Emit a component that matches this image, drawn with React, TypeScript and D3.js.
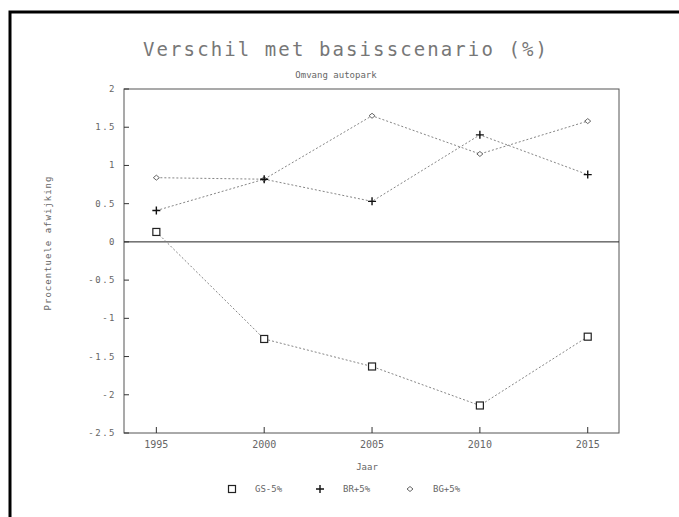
import React from "react";
import * as d3 from "d3";

const years = [1995, 2000, 2005, 2010, 2015];
const gsValues = [0.13, -1.27, -1.63, -2.14, -1.24];
const brValues = [0.41, 0.82, 0.53, 1.4, 0.88];
const bgValues = [0.84, 0.82, 1.65, 1.15, 1.58];
const yTicks = [2, 1.5, 1, 0.5, 0, -0.5, -1, -1.5, -2, -2.5];
const yTickLabels = ["2", "1.5", "1", "0.5", "0", "-0.5", "-1", "-1.5", "-2", "-2.5"];
const legendLabels = ["GS-5%", "BR+5%", "BG+5%"];

const W = 679;
const H = 517;
const font = "'DejaVu Sans Mono', monospace";
const ink = "#666";

function Marker({ kind, x, y }: { kind: string; x: number; y: number }) {
  if (kind === "square") {
    return <rect x={x - 3.5} y={y - 3.5} width={7} height={7} fill="white" stroke="#222" strokeWidth={1.2} />;
  }
  if (kind === "plus") {
    return (
      <path d={`M${x - 4},${y}H${x + 4}M${x},${y - 4}V${y + 4}`} stroke="#111" strokeWidth={1.4} />
    );
  }
  return (
    <path d={`M${x - 3},${y}L${x},${y - 2.5}L${x + 3},${y}L${x},${y + 2.5}Z`} fill="white" stroke="#555" strokeWidth={0.9} />
  );
}

export default function App() {
  const left = 124;
  const right = 619;
  const top = 89;
  const bottom = 433;

  const x = d3.scaleLinear().domain([1993.5, 2016.45]).range([left, right]);
  const y = d3.scaleLinear().domain([-2.5, 2]).range([bottom, top]);

  // drawn in this order so the plus at 2000 sits over the diamond
  const series = [
    { name: legendLabels[0], values: gsValues, marker: "square" },
    { name: legendLabels[2], values: bgValues, marker: "diamond" },
    { name: legendLabels[1], values: brValues, marker: "plus" },
  ];
  const legendItems = [
    { name: legendLabels[0], marker: "square", x: 232 },
    { name: legendLabels[1], marker: "plus", x: 320 },
    { name: legendLabels[2], marker: "diamond", x: 410 },
  ];

  const line = d3
    .line<number>()
    .x((_, i) => x(years[i]))
    .y((v) => y(v));

  return (
    <div style={{ position: "absolute", left: 0, top: 0, width: W, height: H, overflow: "hidden" }}>
      <svg width={W} height={H} style={{ display: "block", background: "white" }}>
        {/* outer frame */}
        <path d={`M10,${H + 5}V12H${W + 5}`} fill="none" stroke="#000" strokeWidth={3} />

        <text x={345} y={56} textAnchor="middle" fontFamily={font} fontSize={19} fill="#777"
          textLength={404} lengthAdjust="spacing">
          Verschil met basisscenario (%)
        </text>
        <text x={336} y={78} textAnchor="middle" fontFamily={font} fontSize={9} fill={ink}>
          Omvang autopark
        </text>

        {/* plot frame */}
        <rect x={left} y={top} width={right - left} height={bottom - top} fill="none" stroke="#555" strokeWidth={1} />

        {/* zero line */}
        <line x1={left} x2={right} y1={y(0)} y2={y(0)} stroke="#222" strokeWidth={1} />

        {yTicks.map((t, i) => (
          <g key={t}>
            <line x1={left} x2={left + 5} y1={y(t)} y2={y(t)} stroke="#333" />
            <text x={116} y={y(t) + 3} textAnchor="end" fontFamily={font} fontSize={9} fill={ink}
              letterSpacing={1.5}>
              {yTickLabels[i]}
            </text>
          </g>
        ))}

        {years.map((yr) => (
          <g key={yr}>
            <line x1={x(yr)} x2={x(yr)} y1={bottom} y2={bottom - 6} stroke="#333" />
            <text x={x(yr)} y={448} textAnchor="middle" fontFamily={font} fontSize={10} fill={ink}>
              {yr}
            </text>
          </g>
        ))}

        <text x={367} y={470} textAnchor="middle" fontFamily={font} fontSize={9} fill={ink}>
          Jaar
        </text>
        <text transform={`translate(51,243) rotate(-90)`} textAnchor="middle" fontFamily={font}
          fontSize={9} fill={ink} letterSpacing={1}>
          Procentuele afwijking
        </text>

        {series.map((s) => (
          <g key={s.name}>
            <path d={line(s.values) || ""} fill="none" stroke="#777" strokeWidth={0.9} strokeDasharray="2 2" />
            {s.values.map((v, i) => (
              <Marker key={i} kind={s.marker} x={x(years[i])} y={y(v)} />
            ))}
          </g>
        ))}

        {legendItems.map((s) => (
          <g key={s.name}>
            <Marker kind={s.marker} x={s.x} y={489} />
            <text x={s.x + 23} y={492} fontFamily={font} fontSize={9} fill={ink}>
              {s.name}
            </text>
          </g>
        ))}
      </svg>
    </div>
  );
}
